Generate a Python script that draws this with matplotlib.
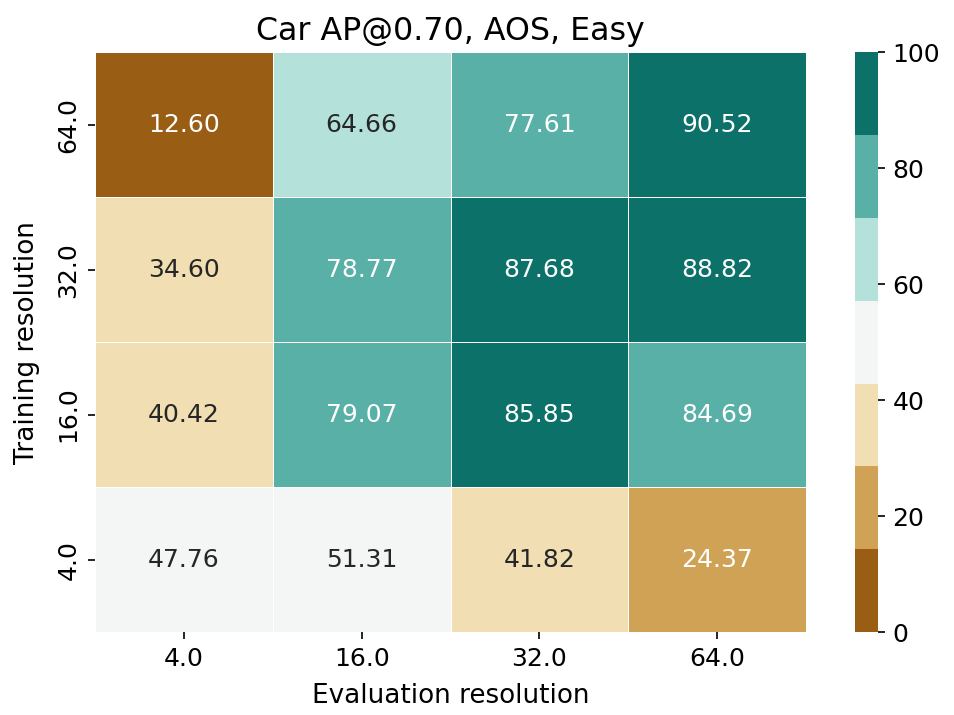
import numpy as np
import pandas as pd
import seaborn as sns
import matplotlib
matplotlib.use("Agg")
import matplotlib.pyplot as plt

eval_res = ["4.0", "16.0", "32.0", "64.0"]
train_res = ["64.0", "32.0", "16.0", "4.0"]
ap_values = [
    [12.60, 64.66, 77.61, 90.52],
    [34.60, 78.77, 87.68, 88.82],
    [40.42, 79.07, 85.85, 84.69],
    [47.76, 51.31, 41.82, 24.37],
]

df = pd.DataFrame(ap_values, index=train_res, columns=eval_res)

fig = plt.figure(figsize=(6.36, 4.7667), dpi=150)
ax = fig.add_axes([0.0996, 0.116, 0.7454, 0.811])
cax = fig.add_axes([0.896, 0.116, 0.024, 0.811])

sns.heatmap(df, ax=ax, cbar_ax=cax, annot=True, fmt=".2f",
            cmap=sns.color_palette("BrBG", 7), vmin=0, vmax=100,
            linewidths=0.4, linecolor="white",
            annot_kws={"fontsize": 12})
cax.tick_params(labelsize=12)
cax.set_yticks([0, 20, 40, 60, 80, 100])

ax.set_title("Car AP@0.70, AOS, Easy", fontsize=15.2)
ax.set_xlabel("Evaluation resolution", fontsize=12.6, labelpad=6)
ax.set_ylabel("Training resolution", fontsize=12.6, labelpad=8)
ax.tick_params(labelsize=12)

fig.savefig("out.png", dpi=150)
